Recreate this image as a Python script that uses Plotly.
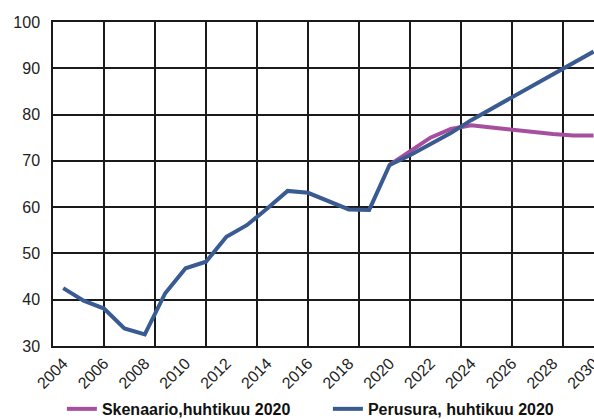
import plotly.graph_objects as go

years = list(range(2004, 2031))
perusura = [42.5, 39.8, 38.1, 33.8, 32.5, 41.4, 46.8, 48.2, 53.6, 56.1, 59.7, 63.5, 63.1,
            61.4, 59.5, 59.4, 69.1, 71.2, 73.5, 76.0, 78.8, 81.3, 83.7, 86.2, 88.6, 91.1, 93.6]
skenaario_years = list(range(2020, 2031))
skenaario = [69.1, 72.0, 75.0, 76.9, 77.7, 77.2, 76.7, 76.3, 75.8, 75.5, 75.5]
tick_years = list(range(2004, 2031, 2))
tick_labels = [str(y) for y in tick_years]

pink = "#A64F9E"
blue = "#3A5B92"
grid = "#1a1a1a"

fig = go.Figure()
fig.add_trace(go.Scatter(x=skenaario_years, y=skenaario, mode="lines",
                         name="Skenaario,huhtikuu 2020",
                         line=dict(color=pink, width=4)))
fig.add_trace(go.Scatter(x=years, y=perusura, mode="lines",
                         name="Perusura, huhtikuu 2020",
                         line=dict(color=blue, width=4)))

xr = [2003.5, 2030.02]
fig.update_layout(
    width=594, height=419,
    margin=dict(l=53, r=0, t=22, b=73),
    paper_bgcolor="white", plot_bgcolor="white",
    font=dict(family="Liberation Sans", color="#222222"),
    showlegend=True,
    legend=dict(orientation="h", xref="container", x=0.552, xanchor="center",
                yref="container", y=0.024, yanchor="middle",
                entrywidth=221, entrywidthmode="pixels",
                font=dict(family="Liberation Sans", size=16, color="#111111", weight="bold"),
                bgcolor="rgba(0,0,0,0)"),
    xaxis=dict(range=xr, tickmode="array", tickvals=tick_years, ticktext=tick_labels,
               tickangle=-45, showgrid=False, ticks="", showline=True,
               linecolor=grid, linewidth=1.5, mirror=True, zeroline=False,
               ticklabeloverflow="allow", automargin=False,
               minor=dict(tickmode="linear", tick0=2003.5, dtick=2.5, showgrid=True,
                          gridcolor=grid, gridwidth=1.5, ticks=""),
               tickfont=dict(size=16, family="Liberation Sans", color="#222222")),
    yaxis=dict(range=[30, 100], tick0=30, dtick=10, showgrid=True, gridcolor=grid,
               gridwidth=1.5, ticks="", showline=True, linecolor=grid, linewidth=1.5,
               mirror=True, zeroline=False, ticklabelstandoff=8, automargin=False,
               tickfont=dict(size=16, family="Liberation Sans", color="#222222")),
)
fig.write_html("out.html")
